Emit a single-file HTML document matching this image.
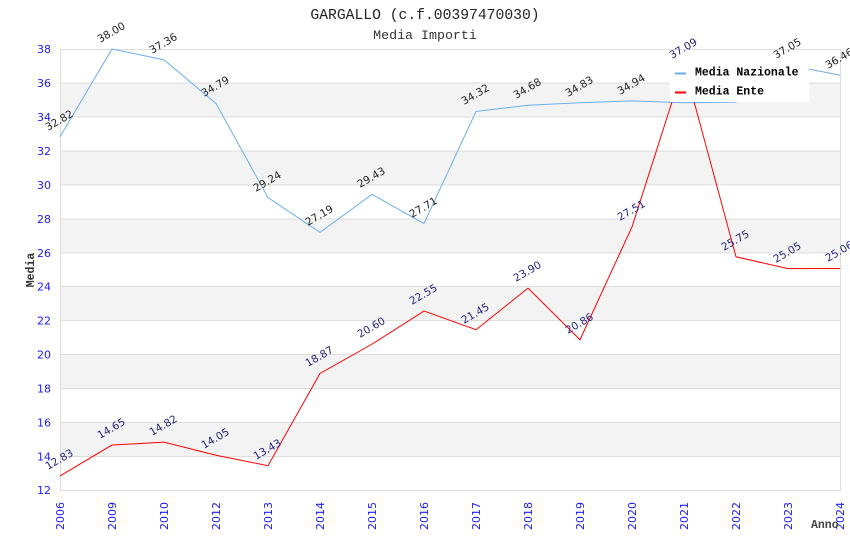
<!DOCTYPE html>
<html><head><meta charset="utf-8"><style>
html,body{margin:0;padding:0;background:#fff;}
svg{display:block;}
</style></head><body>
<svg width="850" height="550" viewBox="0 0 850 550" xmlns="http://www.w3.org/2000/svg">
<rect x="0" y="0" width="850" height="550" fill="#fff"/>
<!-- title -->
<text x="425" y="19" text-anchor="middle" font-family="Liberation Mono, DejaVu Sans Mono, monospace" font-size="14.7" fill="#222">GARGALLO (c.f.00397470030)</text>
<text x="425" y="39" text-anchor="middle" font-family="Liberation Mono, DejaVu Sans Mono, monospace" font-size="13.3" fill="#333">Media Importi</text>
<!-- bands -->
<g fill="#f3f3f3">
<rect x="60" y="82.92" width="780" height="33.93"/>
<rect x="60" y="150.77" width="780" height="33.92"/>
<rect x="60" y="218.62" width="780" height="33.92"/>
<rect x="60" y="286.46" width="780" height="33.92"/>
<rect x="60" y="354.31" width="780" height="33.92"/>
<rect x="60" y="422.15" width="780" height="33.93"/>
</g>
<g stroke="#dddddd" stroke-width="1">
<line x1="60" x2="840" y1="49.5" y2="49.5"/>
<line x1="60" x2="840" y1="83" y2="83"/>
<line x1="60" x2="840" y1="117" y2="117"/>
<line x1="60" x2="840" y1="151" y2="151"/>
<line x1="60" x2="840" y1="185" y2="185"/>
<line x1="60" x2="840" y1="219" y2="219"/>
<line x1="60" x2="840" y1="253" y2="253"/>
<line x1="60" x2="840" y1="286.5" y2="286.5"/>
<line x1="60" x2="840" y1="320.5" y2="320.5"/>
<line x1="60" x2="840" y1="354.5" y2="354.5"/>
<line x1="60" x2="840" y1="388.5" y2="388.5"/>
<line x1="60" x2="840" y1="422.5" y2="422.5"/>
<line x1="60" x2="840" y1="456.5" y2="456.5"/>
<line x1="60" x2="840" y1="490.5" y2="490.5"/>
<line x1="60.5" x2="60.5" y1="49" y2="491"/>
<line x1="840.5" x2="840.5" y1="49" y2="491"/>
</g>
<!-- y ticks -->
<g font-family="DejaVu Sans, Liberation Sans, sans-serif" font-size="11" fill="#1a1aff" text-anchor="end">
<text x="51" y="53">38</text>
<text x="51" y="87">36</text>
<text x="51" y="121">34</text>
<text x="51" y="155">32</text>
<text x="51" y="189">30</text>
<text x="51" y="223">28</text>
<text x="51" y="257">26</text>
<text x="51" y="290.5">24</text>
<text x="51" y="324.5">22</text>
<text x="51" y="358.5">20</text>
<text x="51" y="392.5">18</text>
<text x="51" y="426.5">16</text>
<text x="51" y="460.5">14</text>
<text x="51" y="494">12</text>
</g>
<!-- x ticks -->
<g font-family="DejaVu Sans, Liberation Sans, sans-serif" font-size="11" fill="#1a1aff" text-anchor="end">
<text transform="translate(64,502) rotate(-90)">2006</text>
<text transform="translate(116,502) rotate(-90)">2009</text>
<text transform="translate(168,502) rotate(-90)">2010</text>
<text transform="translate(220,502) rotate(-90)">2012</text>
<text transform="translate(272,502) rotate(-90)">2013</text>
<text transform="translate(324,502) rotate(-90)">2014</text>
<text transform="translate(376,502) rotate(-90)">2015</text>
<text transform="translate(428,502) rotate(-90)">2016</text>
<text transform="translate(480,502) rotate(-90)">2017</text>
<text transform="translate(532,502) rotate(-90)">2018</text>
<text transform="translate(584,502) rotate(-90)">2019</text>
<text transform="translate(636,502) rotate(-90)">2020</text>
<text transform="translate(688,502) rotate(-90)">2021</text>
<text transform="translate(740,502) rotate(-90)">2022</text>
<text transform="translate(792,502) rotate(-90)">2023</text>
<text transform="translate(844,502) rotate(-90)">2024</text>
</g>
<text transform="translate(34,270) rotate(-90)" text-anchor="middle" font-family="Liberation Mono, DejaVu Sans Mono, monospace" font-size="11.5" font-weight="bold" fill="#333">Media</text>
<text x="811" y="528" font-family="Liberation Mono, DejaVu Sans Mono, monospace" font-size="11.5" font-weight="bold" fill="#444">Anno</text>
<!-- series -->
<polyline fill="none" stroke="#6aaef0" stroke-width="1" points="60,136.86 112,49 164,59.86 216,103.45 268,197.58 320,232.36 372,194.36 424,223.54 476,111.42 528,105.31 580,102.77 632,100.9 684,102.77 736,102.1 788,65.11 840,75.12"/>
<polyline fill="none" stroke="#ff0000" stroke-width="1" points="60,475.92 112,445.05 164,442.17 216,455.23 268,465.75 320,373.47 372,344.13 424,311.06 476,329.71 528,288.16 580,339.72 632,226.93 684,64.44 736,256.78 788,268.65 840,268.48"/>
<!-- labels nazionale -->
<g font-family="DejaVu Sans, Liberation Sans, sans-serif" font-size="10.5" fill="#222">
<text transform="translate(48,131) rotate(-30)">32.82</text>
<text transform="translate(100,43) rotate(-30)">38.00</text>
<text transform="translate(152,54) rotate(-30)">37.36</text>
<text transform="translate(204,97) rotate(-30)">34.79</text>
<text transform="translate(256,192) rotate(-30)">29.24</text>
<text transform="translate(308,226) rotate(-30)">27.19</text>
<text transform="translate(360,188) rotate(-30)">29.43</text>
<text transform="translate(412,218) rotate(-30)">27.71</text>
<text transform="translate(464,105) rotate(-30)">34.32</text>
<text transform="translate(516,99) rotate(-30)">34.68</text>
<text transform="translate(568,97) rotate(-30)">34.83</text>
<text transform="translate(620,95) rotate(-30)">34.94</text>
<text transform="translate(776,59) rotate(-30)">37.05</text>
<text transform="translate(828,69) rotate(-30)">36.46</text>
</g>
<!-- labels ente -->
<g font-family="DejaVu Sans, Liberation Sans, sans-serif" font-size="10.5" fill="#1f1f80">
<text transform="translate(48,470) rotate(-30)">12.83</text>
<text transform="translate(100,439) rotate(-30)">14.65</text>
<text transform="translate(152,436) rotate(-30)">14.82</text>
<text transform="translate(204,449) rotate(-30)">14.05</text>
<text transform="translate(256,460) rotate(-30)">13.43</text>
<text transform="translate(308,367) rotate(-30)">18.87</text>
<text transform="translate(360,338) rotate(-30)">20.60</text>
<text transform="translate(412,305) rotate(-30)">22.55</text>
<text transform="translate(464,324) rotate(-30)">21.45</text>
<text transform="translate(516,282) rotate(-30)">23.90</text>
<text transform="translate(568,334) rotate(-30)">20.86</text>
<text transform="translate(620,221) rotate(-30)">27.51</text>
<text transform="translate(724,251) rotate(-30)">25.75</text>
<text transform="translate(776,263) rotate(-30)">25.05</text>
<text transform="translate(828,262) rotate(-30)">25.06</text>
</g>
<!-- legend -->
<rect x="670" y="58" width="139" height="44" fill="#fff"/>
<rect x="675" y="72.5" width="11" height="2" fill="#6aaef0"/>
<rect x="675" y="91.5" width="11" height="2" fill="#ff0000"/>
<g font-family="Liberation Mono, DejaVu Sans Mono, monospace" font-size="11.5" font-weight="bold" fill="#000">
<text x="695" y="75.5">Media Nazionale</text>
<text x="695" y="94.5">Media Ente</text>
</g>
<text transform="translate(672,59) rotate(-30)" font-family="DejaVu Sans, Liberation Sans, sans-serif" font-size="10.5" fill="#1f1f80">37.09</text>
</svg>
</body></html>
